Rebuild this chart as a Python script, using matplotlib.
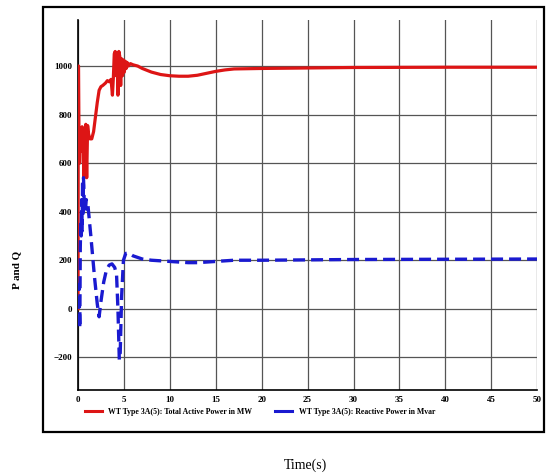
import matplotlib.pyplot as plt
from matplotlib.lines import Line2D
from matplotlib.patches import Rectangle

# Simulation results: active power P (MW) and reactive power Q (Mvar)
t_p = [0, 0.03, 0.06, 0.10, 0.18, 0.25, 0.35, 0.45, 0.55, 0.65, 0.75, 0.85,
       0.95, 1.05, 1.15, 1.3, 1.5, 1.7, 1.9, 2.1, 2.3, 2.5, 2.7, 3.0, 3.2,
       3.4, 3.6, 3.75, 3.85, 3.95, 4.05, 4.15, 4.25, 4.35, 4.45, 4.55, 4.65,
       4.75, 4.85, 4.95, 5.05, 5.15, 5.25, 5.35, 5.5, 5.7, 6.0, 6.5, 7.0,
       8.0, 9.0, 10.0, 11.0, 12.0, 13.0, 14.0, 15.0, 16.0, 17.0, 20.0, 25.0,
       30.0, 40.0, 50.0]
p_mw = [0, 1000, 1000, 760, 600, 740, 650, 750, 700, 540, 720, 760,
        540, 755, 720, 700, 700, 730, 790, 850, 900, 915, 920, 930, 940,
        935, 945, 880, 950, 1050, 1060, 960, 1055, 880, 1060, 1040, 920,
        1030, 960, 1025, 975, 1020, 990, 1015, 1000, 1010, 1005, 1000, 990,
        975, 965, 960, 958, 958, 962, 970, 978, 984, 988, 990, 992,
        994, 995, 995]

t_q = [0, 0.1, 0.2, 0.25, 0.3, 0.35, 0.4, 0.45, 0.5, 0.55, 0.6, 0.7, 0.8,
       0.9, 1.1, 1.4, 1.8, 2.1, 2.3, 2.5, 2.8, 3.1, 3.4, 3.7, 4.0, 4.2,
       4.35, 4.5, 4.6, 4.75, 4.95, 5.2, 5.5, 6.0, 7.0, 8.0, 10, 12, 13, 15,
       17, 20, 30, 40, 50]
q_mvar = [0, 100, -80, 250, 350, 300, 450, 320, 530, 380, 540, 420, 400,
          450, 420, 300, 130, 20, -33, 30, 110, 160, 180, 185, 170, 140,
          0, -210, -180, 50, 200, 228, 230, 218, 205, 200, 195, 190, 190, 195,
          200, 200, 203, 204, 205]

x_ticks = list(range(0, 55, 5))
y_ticks = [-200, 0, 200, 400, 600, 800, 1000]

label_p = 'WT Type 3A(5): Total Active Power in MW'
label_q = 'WT Type 3A(5): Reactive Power in Mvar'

red = '#dd1515'
blue = '#1a1ad0'

plt.rcParams['font.family'] = ['Liberation Serif', 'DejaVu Serif']

fig = plt.figure(figsize=(5.48, 4.74), dpi=100)
ax = fig.add_axes([0.1423, 0.177, 0.838, 0.781])

ax.plot(t_p, p_mw, color=red, linewidth=2.3, zorder=3)
ax.plot(t_q, q_mvar, color=blue, linewidth=2.4, linestyle=(0, (3.6, 1.8)), zorder=4)

ax.set_xlim(0, 50)
ax.set_ylim(-335, 1190)
ax.set_xticks(x_ticks)
ax.set_yticks(y_ticks)
ax.tick_params(length=0, labelsize=6.5, pad=4)
for lbl in ax.get_xticklabels() + ax.get_yticklabels():
    lbl.set_fontweight('bold')

# grid and axis lines
ax.grid(True, color='#555555', linewidth=0.9)
ax.spines['top'].set_visible(False)
ax.spines['right'].set_visible(False)
ax.spines['left'].set_linewidth(1.2)
ax.spines['bottom'].set_linewidth(1.2)

# outer frame around plot and legend
fig.patches.append(Rectangle((43 / 548, 1 - 432 / 474), 501 / 548, 425 / 474,
                             transform=fig.transFigure, fill=False,
                             edgecolor='black', linewidth=1.6))

handles = [Line2D([], [], color=red, linewidth=2.2),
           Line2D([], [], color=blue, linewidth=2.2)]
fig.legend(handles, [label_p, label_q], loc='center', ncol=2,
           bbox_to_anchor=(0.474, 0.131), frameon=False,
           prop={'size': 5.6, 'weight': 'bold'}, handlelength=2.2,
           columnspacing=3.0, handletextpad=0.8)

fig.text(0.03, 0.43, 'P and Q', rotation=90, ha='center', va='center',
         fontsize=8, fontweight='bold')
fig.text(0.557, 0.019, 'Time(s)', ha='center', va='center', fontsize=10)

fig.savefig('out.png', dpi=100)
